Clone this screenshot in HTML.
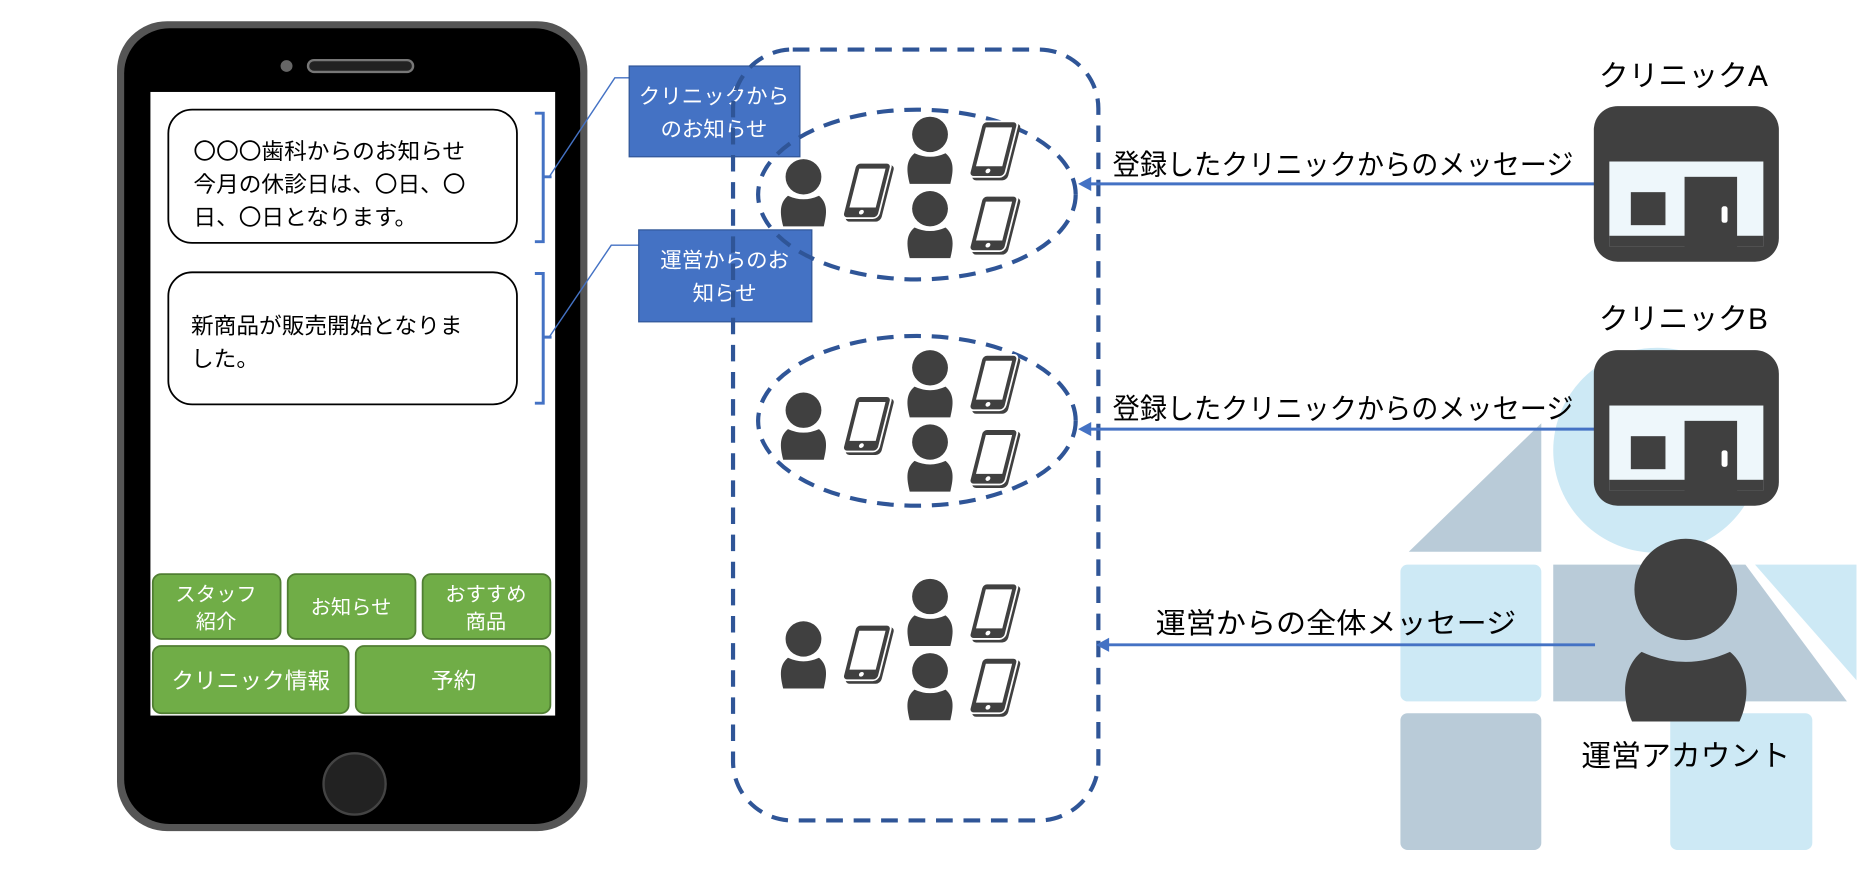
<!DOCTYPE html>
<html><head><meta charset="utf-8"><style>
html,body{margin:0;padding:0;background:#fff;overflow:hidden}
svg{display:block}
text{font-family:"Liberation Sans","Noto Sans CJK JP",sans-serif}
</style></head><body>
<svg width="1872" height="870" viewBox="0 0 1568 738" preserveAspectRatio="none" xmlns="http://www.w3.org/2000/svg">
<defs>
<g id="person"><circle cx="0" cy="-16" r="15" fill="#404040"/><path d="M-17,26 C-20,14 -20,6 -13,0 Q0,6 13,0 C20,6 20,14 17,26 Z" fill="#404040"/></g>
<g id="phone" transform="skewX(-14)"><rect x="-14" y="-22" width="30" height="48" rx="4" fill="#404040"/><rect x="-17" y="-24" width="30" height="47" rx="4" fill="#404040" stroke="#fff" stroke-width="1.5"/><rect x="-13" y="-19" width="22" height="33" fill="#fff"/><circle cx="-2" cy="18" r="2" fill="#fff"/></g>
<g id="group"><use href="#person" x="673" y="166"/><use href="#phone" x="728" y="162"/><use href="#person" x="779" y="130"/><use href="#phone" x="834" y="127"/><use href="#person" x="779" y="193"/><use href="#phone" x="834" y="190"/></g>
<g id="clinic"><rect x="0" y="0" width="155" height="132" rx="20" fill="#404040"/><rect x="13" y="47" width="129" height="72" fill="#eef7fb"/><rect x="13" y="110" width="129" height="9" fill="#404040"/><rect x="31" y="73" width="29" height="28" fill="#404040"/><rect x="76" y="60" width="44" height="60" fill="#404040"/><rect x="107" y="85" width="5" height="14" rx="2" fill="#fff"/></g>
</defs>
<circle cx="1388" cy="382" r="87" fill="#cde9f5"/>
<path d="M1180,468 L1291,359 L1291,468 Z" fill="#b9cbd8"/>
<rect x="1173" y="479" width="118" height="116" rx="6" fill="#cde9f5"/>
<path d="M1301,479 L1462,479 L1547,595 L1301,595 Z" fill="#b9cbd8"/>
<path d="M1470,479 L1555,479 L1555,577 Z" fill="#cde9f5"/>
<rect x="1173" y="605" width="118" height="116" rx="6" fill="#b9cbd8"/>
<rect x="1399" y="605" width="119" height="116" rx="6" fill="#cde9f5"/>
<rect x="98" y="18" width="394" height="687" rx="42" fill="#555"/>
<rect x="104" y="24" width="382" height="675" rx="38" fill="#000"/>
<circle cx="240" cy="56" r="5" fill="#666"/>
<rect x="258" y="51" width="88" height="10" rx="5" fill="#222" stroke="#777" stroke-width="2"/>
<rect x="126" y="78" width="339" height="529" fill="#fff"/>
<circle cx="297" cy="665" r="26" fill="#222" stroke="#444" stroke-width="2"/>
<rect x="141" y="93" width="292" height="113" rx="20" fill="#fff" stroke="#000" stroke-width="1.5"/>
<text font-size="19" fill="#000"><tspan x="162" y="135">〇〇〇歯科からのお知らせ</tspan><tspan x="162" y="163">今月の休診日は、〇日、〇</tspan><tspan x="162" y="191">日、〇日となります。</tspan></text>
<rect x="141" y="231" width="292" height="112" rx="20" fill="#fff" stroke="#000" stroke-width="1.5"/>
<text font-size="19" fill="#000"><tspan x="160" y="283">新商品が販売開始となりま</tspan><tspan x="160" y="311">した。</tspan></text>
<path d="M448,96 L455,96 L455,205 L448,205 M455,150 L462,150" fill="none" stroke="#4472C4" stroke-width="2.5"/>
<path d="M448,232 L455,232 L455,342 L448,342 M455,286 L462,286" fill="none" stroke="#4472C4" stroke-width="2.5"/>
<path d="M460,150 L515,66 L528,66 M460,286 L512,208 L535,208" fill="none" stroke="#4472C4" stroke-width="1.2"/>
<rect x="527" y="56" width="143" height="77" fill="#4472C4" stroke="#2f5597"/>
<text font-size="18" fill="#fff" text-anchor="middle"><tspan x="598" y="88">クリニックから</tspan><tspan x="598" y="116">のお知らせ</tspan></text>
<rect x="535" y="195" width="145" height="78" fill="#4472C4" stroke="#2f5597"/>
<text font-size="18" fill="#fff" text-anchor="middle"><tspan x="607" y="227">運営からのお</tspan><tspan x="607" y="255">知らせ</tspan></text>
<g fill="#70AD47" stroke="#507e32" stroke-width="1.5">
<rect x="128" y="487" width="107" height="55" rx="7"/><rect x="241" y="487" width="107" height="55" rx="7"/><rect x="354" y="487" width="107" height="55" rx="7"/>
<rect x="128" y="548" width="164" height="57" rx="7"/><rect x="298" y="548" width="163" height="57" rx="7"/>
</g>
<g fill="#fff" font-size="17" text-anchor="middle">
<text x="181" y="510">スタッフ</text><text x="181" y="533">紹介</text>
<text x="294" y="521">お知らせ</text>
<text x="407" y="510">おすすめ</text><text x="407" y="533">商品</text>
<text x="210" y="584" font-size="19">クリニック情報</text><text x="380" y="584" font-size="19">予約</text>
</g>
<rect x="614" y="42" width="306" height="654" rx="50" fill="none" stroke="#2F5597" stroke-width="3.5" stroke-dasharray="14,9"/>
<ellipse cx="768" cy="165" rx="133" ry="72" fill="none" stroke="#2F5597" stroke-width="3.5" stroke-dasharray="14,9"/>
<ellipse cx="768" cy="357" rx="133" ry="72" fill="none" stroke="#2F5597" stroke-width="3.5" stroke-dasharray="14,9"/>
<use href="#group"/>
<use href="#group" y="198"/>
<use href="#group" y="392"/>
<g stroke="#4472C4" stroke-width="2.5" fill="#4472C4">
<line x1="1336" y1="156" x2="912" y2="156"/><path d="M903,156 L914,150 L914,162 Z" stroke="none"/>
<line x1="1336" y1="364" x2="912" y2="364"/><path d="M903,364 L914,358 L914,370 Z" stroke="none"/>
<line x1="1336" y1="547" x2="927" y2="547"/><path d="M918,547 L929,541 L929,553 Z" stroke="none"/>
</g>
<text font-size="24" fill="#000" x="932" y="148" textLength="386" lengthAdjust="spacingAndGlyphs">登録したクリニックからのメッセージ</text>
<text font-size="24" fill="#000" x="932" y="355" textLength="386" lengthAdjust="spacingAndGlyphs">登録したクリニックからのメッセージ</text>
<text font-size="24" fill="#000" x="968" y="537" textLength="302" lengthAdjust="spacingAndGlyphs">運営からの全体メッセージ</text>
<text font-size="25" fill="#000" x="1410" y="73" text-anchor="middle">クリニックA</text>
<use href="#clinic" x="1335" y="90"/>
<text font-size="25" fill="#000" x="1410" y="279" text-anchor="middle">クリニックB</text>
<use href="#clinic" x="1335" y="297"/>
<circle cx="1412" cy="500" r="43" fill="#404040"/>
<path d="M1367,612 C1357,590 1360,565 1375,553 Q1412,570 1449,553 C1464,565 1467,590 1457,612 Z" fill="#404040"/>
<text font-size="25" fill="#000" x="1412" y="650" text-anchor="middle">運営アカウント</text>
</svg>
</body></html>
